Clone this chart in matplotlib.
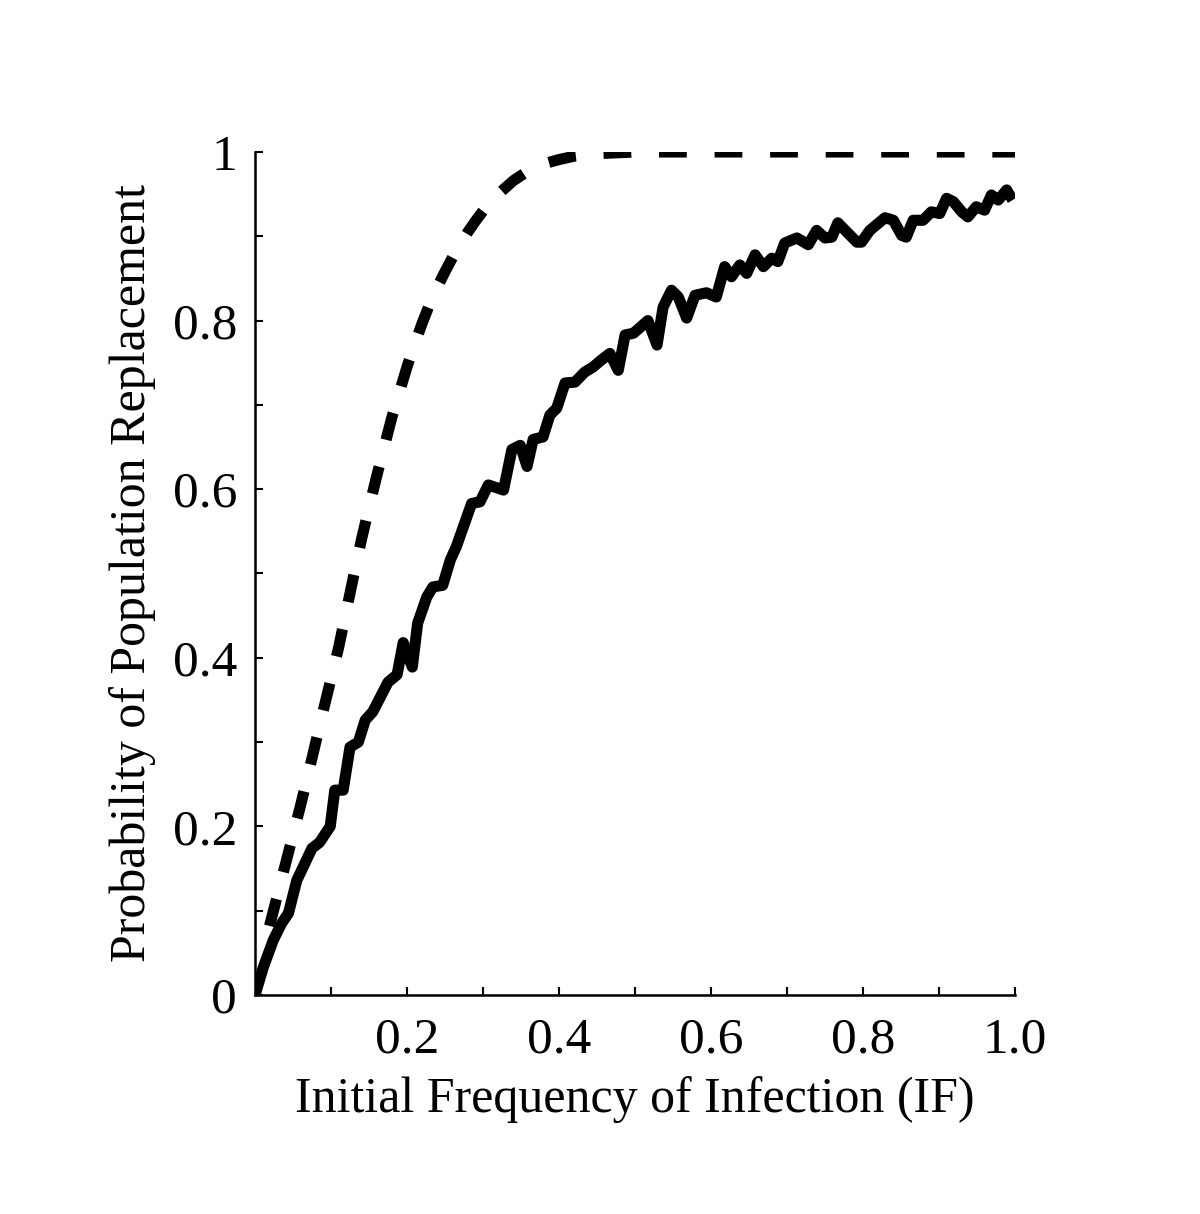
import matplotlib
matplotlib.use('Agg')
import matplotlib.pyplot as plt

plt.rcParams['font.family'] = ['Liberation Serif', 'DejaVu Serif']

# Dashed curve (deterministic / expected probability)
dashed_x = [0.01, 0.02, 0.03, 0.04, 0.05, 0.06, 0.07, 0.08, 0.09, 0.10,
            0.11, 0.12, 0.13, 0.14, 0.15, 0.16, 0.17, 0.18, 0.19, 0.20,
            0.21, 0.22, 0.23, 0.24, 0.25, 0.26, 0.27, 0.28, 0.29, 0.30,
            0.32, 0.34, 0.36, 0.38, 0.40, 0.42, 0.45, 0.50, 0.60, 0.70,
            0.80, 0.90, 1.00]
dashed_y = [0.050, 0.085, 0.120, 0.155, 0.190, 0.225, 0.262, 0.300, 0.338, 0.375,
            0.412, 0.455, 0.498, 0.540, 0.578, 0.615, 0.650, 0.685, 0.715, 0.745,
            0.772, 0.797, 0.820, 0.840, 0.858, 0.875, 0.890, 0.905, 0.918, 0.930,
            0.950, 0.966, 0.978, 0.986, 0.991, 0.995, 0.998, 1.000, 1.000, 1.000,
            1.000, 1.000, 1.000]

# Solid curve (simulated probability)
solid_x = [0.000, 0.011, 0.024, 0.035, 0.044, 0.055, 0.075, 0.085, 0.099, 0.105,
           0.116, 0.125, 0.136, 0.145, 0.155, 0.175, 0.187, 0.195, 0.207, 0.214,
           0.226, 0.234, 0.247, 0.257, 0.265, 0.285, 0.296, 0.307, 0.327, 0.338,
           0.349, 0.358, 0.366, 0.379, 0.388, 0.397, 0.408, 0.421, 0.434, 0.445,
           0.454, 0.467, 0.478, 0.487, 0.498, 0.517, 0.529, 0.537, 0.548, 0.557,
           0.568, 0.579, 0.594, 0.607, 0.618, 0.627, 0.638, 0.647, 0.658, 0.669,
           0.680, 0.688, 0.697, 0.713, 0.728, 0.739, 0.750, 0.759, 0.767, 0.780,
           0.792, 0.798, 0.809, 0.829, 0.840, 0.851, 0.857, 0.866, 0.879, 0.890,
           0.901, 0.910, 0.919, 0.930, 0.938, 0.949, 0.960, 0.969, 0.978, 0.989,
           0.997]
solid_y = [0.000, 0.033, 0.065, 0.085, 0.097, 0.136, 0.174, 0.181, 0.200, 0.243,
           0.243, 0.294, 0.300, 0.326, 0.336, 0.371, 0.380, 0.418, 0.389, 0.441,
           0.472, 0.484, 0.486, 0.516, 0.532, 0.583, 0.585, 0.605, 0.599, 0.647,
           0.652, 0.627, 0.659, 0.662, 0.688, 0.696, 0.726, 0.727, 0.739, 0.745,
           0.752, 0.761, 0.741, 0.783, 0.785, 0.800, 0.771, 0.816, 0.836, 0.828,
           0.803, 0.830, 0.833, 0.828, 0.864, 0.852, 0.866, 0.856, 0.878, 0.864,
           0.874, 0.870, 0.892, 0.898, 0.890, 0.907, 0.898, 0.899, 0.916, 0.904,
           0.893, 0.893, 0.907, 0.922, 0.919, 0.901, 0.899, 0.919, 0.919, 0.929,
           0.927, 0.945, 0.941, 0.929, 0.923, 0.935, 0.931, 0.949, 0.943, 0.955,
           0.943]

x_ticks = [0.1, 0.2, 0.3, 0.4, 0.5, 0.6, 0.7, 0.8, 0.9, 1.0]
x_ticklabels = ['', '0.2', '', '0.4', '', '0.6', '', '0.8', '', '1.0']
y_ticks = [0.0, 0.1, 0.2, 0.3, 0.4, 0.5, 0.6, 0.7, 0.8, 0.9, 1.0]
y_ticklabels = ['0', '', '0.2', '', '0.4', '', '0.6', '', '0.8', '', '1']

fig = plt.figure(figsize=(12, 12.14), dpi=100)
ax = fig.add_axes([0.2125, 0.1804, 0.6333, 0.6944])

ax.plot(dashed_x, dashed_y, color='black', lw=8, ls=(2.5, (2.5, 2.5)),
        dash_capstyle='butt')
ax.plot(solid_x, solid_y, color='black', lw=8, solid_joinstyle='round',
        solid_capstyle='butt')

ax.set_xlim(0, 1)
ax.set_ylim(0, 1)
for s in ['top', 'right']:
    ax.spines[s].set_visible(False)
for s in ['left', 'bottom']:
    ax.spines[s].set_linewidth(1.8)

ax.set_xticks(x_ticks)
ax.set_xticklabels(x_ticklabels)
ax.set_yticks(y_ticks)
ax.set_yticklabels(y_ticklabels)
ax.tick_params(direction='in', length=6, width=1.5, labelsize=37)
ax.tick_params(axis='x', pad=16)
ax.tick_params(axis='y', pad=13)

ax.set_xlabel('Initial Frequency of Infection (IF)', fontsize=36, labelpad=9)
ax.set_ylabel('Probability of Population Replacement', fontsize=36, labelpad=12)

fig.savefig('out.png', dpi=100)
